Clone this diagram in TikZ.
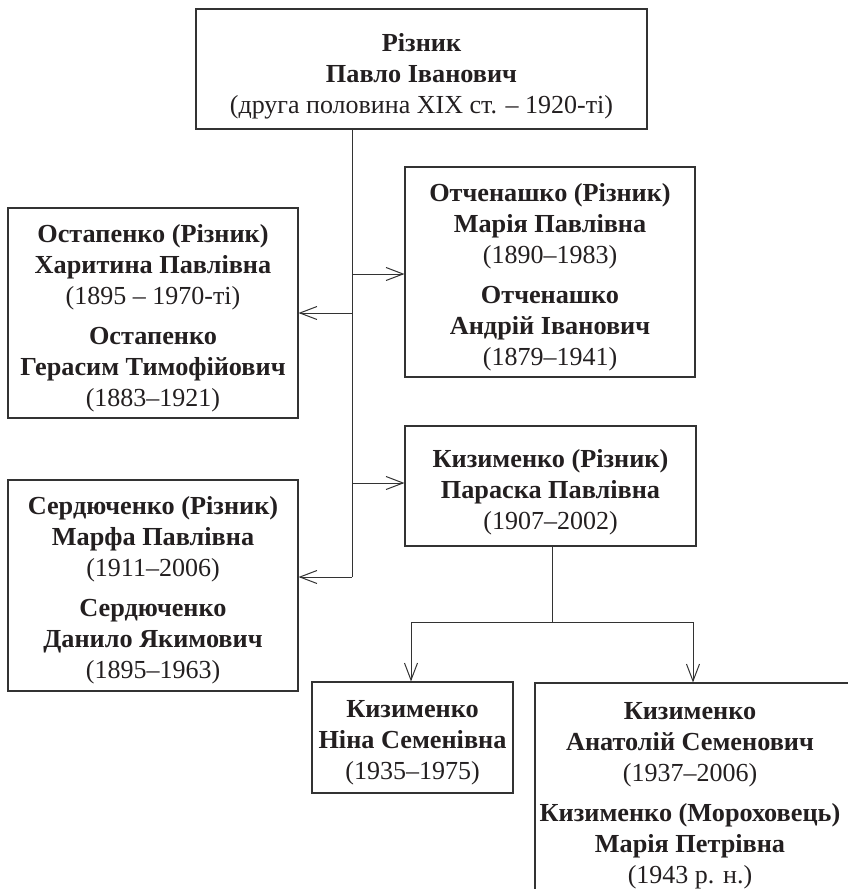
\documentclass[tikz,border=0pt]{standalone}
\usepackage{fontspec}
\setmainfont{Liberation Serif}[BoldFeatures={FakeStretch=1.01}]
\usetikzlibrary{arrows.meta}
\definecolor{ink}{HTML}{231F20}
\definecolor{rule}{HTML}{333333}
\begin{document}
\begin{tikzpicture}[x=1pt,y=-1pt,
  box/.style={draw=rule, line width=1.1pt, inner sep=0pt},
  txt/.style={inner sep=0pt, align=center, text=ink, font=\fontsize{26}{31}\selectfont},
  conn/.style={draw=rule, line width=1pt, -{Straight Barb[length=17pt,width=13pt,line width=1pt]}},
  plain/.style={draw=rule, line width=1pt}]
\useasboundingbox (0,0) rectangle (848,889);
\begin{scope}
\clip (0,0) rectangle (848,889);
% top
\node[box, minimum width=451pt, minimum height=120pt] (top) at (421.5,69) {};
\node[txt] (toptxt) at (421.5,76)
  {\textbf{Різник}\\ \textbf{Павло Іванович}\\ (друга половина XIX ст. – 1920-ті)};
% left 1
\node[box, minimum width=290pt, minimum height=210pt] (ost) at (153,313) {};
\node[txt] (osttxt) at (153,318)
  {\textbf{Остапенко (Різник)}\\ \textbf{Харитина Павлівна}\\ (1895 – 1970-ті)\\[9pt]
   \textbf{Остапенко}\\ \textbf{Герасим Тимофійович}\\ (1883–1921)};
% right 1
\node[box, minimum width=290pt, minimum height=210pt] (otch) at (550,272) {};
\node[txt] (otchtxt) at (550,277)
  {\textbf{Отченашко (Різник)}\\ \textbf{Марія Павлівна}\\ (1890–1983)\\[9pt]
   \textbf{Отченашко}\\ \textbf{Андрій Іванович}\\ (1879–1941)};
% right 2
\node[box, minimum width=291pt, minimum height=120pt] (kyz) at (550.5,486) {};
\node[txt] (kyztxt) at (550.5,492)
  {\textbf{Кизименко (Різник)}\\ \textbf{Параска Павлівна}\\ (1907–2002)};
% left 2
\node[box, minimum width=290pt, minimum height=211pt] (serd) at (153,585.5) {};
\node[txt] (serdtxt) at (153,590)
  {\textbf{Сердюченко (Різник)}\\ \textbf{Марфа Павлівна}\\ (1911–2006)\\[9pt]
   \textbf{Сердюченко}\\ \textbf{Данило Якимович}\\ (1895–1963)};
% nina
\node[box, minimum width=201pt, minimum height=111pt] (nina) at (412.5,737.5) {};
\node[txt] (ninatxt) at (412.5,743)
  {\textbf{Кизименко}\\ \textbf{Ніна Семенівна}\\ (1935–1975)};
% anatoliy (box runs past the page edge)
\node[box, minimum width=330pt, minimum height=230pt] (anat) at (700,798) {};
\node[txt] (anattxt) at (690,796)
  {\textbf{Кизименко}\\ \textbf{Анатолій Семенович}\\ (1937–2006)\\[9pt]
   \textbf{Кизименко (Мороховець)}\\ \textbf{Марія Петрівна}\\ (1943 р. н.)};
% connectors
\coordinate (j0) at (352,577);
\coordinate (j1) at (352,274);
\coordinate (j2) at (352,313);
\coordinate (j3) at (352,483);
\draw[plain] (top.south -| j0) -- (j0);
\draw[conn] (j0) -- (j0 -| serd.east);
\draw[conn] (j1) -- (j1 -| otch.west);
\draw[conn] (j2) -- (j2 -| ost.east);
\draw[conn] (j3) -- (j3 -| kyz.west);
\coordinate (b) at (552,622);
\coordinate (bl) at (411,622);
\coordinate (br) at (693,622);
\draw[plain] (kyz.south -| b) -- (b);
\draw[plain] (bl) -- (br);
\draw[conn] (bl) -- (bl |- nina.north);
\draw[conn] (br) -- (br |- anat.north);
\end{scope}
\end{tikzpicture}
\end{document}
